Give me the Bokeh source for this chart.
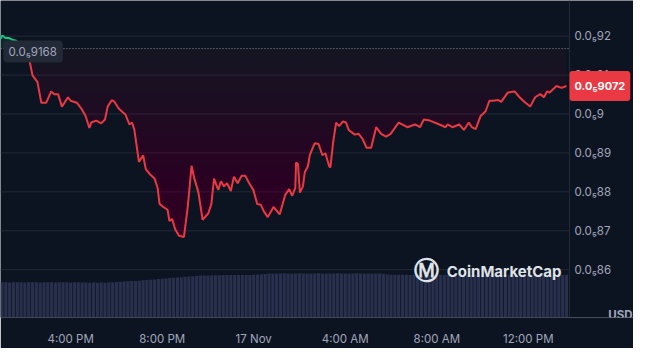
import numpy as np
import pandas as pd
from bokeh.plotting import figure
from bokeh.models import Range1d, FixedTicker, CustomJSTickFormatter, Span, Label
from bokeh.core.properties import value
from bokeh.embed import file_html
from bokeh.resources import INLINE

# Prices are the mantissa shown after "0.0₅" (i.e. 0.9168 -> 0.0₅9168 USD)
times = [
    "2024-11-16 12:56", "2024-11-16 13:01", "2024-11-16 13:09", "2024-11-16 13:19", "2024-11-16 13:29",
    "2024-11-16 13:37", "2024-11-16 13:57", "2024-11-16 14:10", "2024-11-16 14:20", "2024-11-16 14:33",
    "2024-11-16 14:43", "2024-11-16 14:56", "2024-11-16 15:09", "2024-11-16 15:17", "2024-11-16 15:27",
    "2024-11-16 15:37", "2024-11-16 15:53", "2024-11-16 16:00", "2024-11-16 16:16", "2024-11-16 16:28",
    "2024-11-16 16:39", "2024-11-16 16:49", "2024-11-16 16:54", "2024-11-16 17:07", "2024-11-16 17:20",
    "2024-11-16 17:30", "2024-11-16 17:37", "2024-11-16 17:48", "2024-11-16 17:55", "2024-11-16 18:06",
    "2024-11-16 18:16", "2024-11-16 18:24", "2024-11-16 18:34", "2024-11-16 18:41", "2024-11-16 18:47",
    "2024-11-16 18:59", "2024-11-16 19:10", "2024-11-16 19:17", "2024-11-16 19:27", "2024-11-16 19:40",
    "2024-11-16 19:48", "2024-11-16 19:53", "2024-11-16 20:03", "2024-11-16 20:14", "2024-11-16 20:19",
    "2024-11-16 20:26", "2024-11-16 20:34", "2024-11-16 20:44", "2024-11-16 20:57", "2024-11-16 21:07",
    "2024-11-16 21:17", "2024-11-16 21:23", "2024-11-16 21:35", "2024-11-16 21:46", "2024-11-16 22:01",
    "2024-11-16 22:09", "2024-11-16 22:16", "2024-11-16 22:27", "2024-11-16 22:34", "2024-11-16 22:42",
    "2024-11-16 22:50", "2024-11-16 23:00", "2024-11-16 23:08", "2024-11-16 23:18", "2024-11-16 23:28",
    "2024-11-16 23:38", "2024-11-16 23:48", "2024-11-16 23:59", "2024-11-17 00:09", "2024-11-17 00:19",
    "2024-11-17 00:27", "2024-11-17 00:37", "2024-11-17 00:52", "2024-11-17 01:08", "2024-11-17 01:23",
    "2024-11-17 01:33", "2024-11-17 01:41", "2024-11-17 01:49", "2024-11-17 01:51", "2024-11-17 01:56",
    "2024-11-17 02:01", "2024-11-17 02:09", "2024-11-17 02:14", "2024-11-17 02:22", "2024-11-17 02:27",
    "2024-11-17 02:40", "2024-11-17 02:50", "2024-11-17 03:00", "2024-11-17 03:08", "2024-11-17 03:18",
    "2024-11-17 03:21", "2024-11-17 03:28", "2024-11-17 03:36", "2024-11-17 03:44", "2024-11-17 03:54",
    "2024-11-17 04:02", "2024-11-17 04:09", "2024-11-17 04:25", "2024-11-17 04:35", "2024-11-17 04:45",
    "2024-11-17 04:56", "2024-11-17 05:08", "2024-11-17 05:21", "2024-11-17 05:34", "2024-11-17 05:47",
    "2024-11-17 05:59", "2024-11-17 06:20", "2024-11-17 06:43", "2024-11-17 07:03", "2024-11-17 07:16",
    "2024-11-17 07:26", "2024-11-17 07:42", "2024-11-17 08:07", "2024-11-17 08:23", "2024-11-17 08:28",
    "2024-11-17 08:41", "2024-11-17 08:59", "2024-11-17 09:11", "2024-11-17 09:24", "2024-11-17 09:32",
    "2024-11-17 09:42", "2024-11-17 09:55", "2024-11-17 10:08", "2024-11-17 10:18", "2024-11-17 10:28",
    "2024-11-17 10:41", "2024-11-17 10:49", "2024-11-17 11:06", "2024-11-17 11:24", "2024-11-17 11:37",
    "2024-11-17 11:50", "2024-11-17 12:05", "2024-11-17 12:18", "2024-11-17 12:31", "2024-11-17 12:41",
    "2024-11-17 12:49", "2024-11-17 12:56", "2024-11-17 13:14", "2024-11-17 13:27", "2024-11-17 13:40",
]
prices = [
    0.9193, 0.9202, 0.9195, 0.9195, 0.9190,
    0.9188, 0.9171, 0.9147, 0.9099, 0.9082,
    0.9029, 0.9029, 0.9058, 0.9051, 0.9051,
    0.9019, 0.9043, 0.9034, 0.9029, 0.9014,
    0.8995, 0.8964, 0.8978, 0.8983, 0.8976,
    0.8986, 0.9019, 0.9036, 0.9031, 0.9014,
    0.9005, 0.8998, 0.8973, 0.8978, 0.8959,
    0.8877, 0.8894, 0.8858, 0.8846, 0.8834,
    0.8810, 0.8769, 0.8761, 0.8754, 0.8725,
    0.8730, 0.8704, 0.8687, 0.8684, 0.8761,
    0.8867, 0.8839, 0.8798, 0.8728, 0.8745,
    0.8769, 0.8834, 0.8805, 0.8827, 0.8814,
    0.8822, 0.8802, 0.8839, 0.8822, 0.8841,
    0.8841, 0.8822, 0.8805, 0.8769, 0.8766,
    0.8749, 0.8735, 0.8761, 0.8742, 0.8793,
    0.8807, 0.8790, 0.8810, 0.8875, 0.8872,
    0.8798, 0.8814, 0.8851, 0.8865, 0.8894,
    0.8925, 0.8923, 0.8894, 0.8899, 0.8865,
    0.8863, 0.8925, 0.8978, 0.8969, 0.8981,
    0.8978, 0.8959, 0.8947, 0.8949, 0.8937,
    0.8913, 0.8913, 0.8966, 0.8949, 0.8942,
    0.8949, 0.8978, 0.8966, 0.8973, 0.8966,
    0.8986, 0.8983, 0.8973, 0.8966, 0.8973,
    0.8966, 0.8973, 0.8959, 0.8978, 0.8966,
    0.8961, 0.8995, 0.9007, 0.9034, 0.9034,
    0.9036, 0.9031, 0.9055, 0.9058, 0.9043,
    0.9031, 0.9019, 0.9043, 0.9051, 0.9043,
    0.9058, 0.9055, 0.9072, 0.9067, 0.9072,
]
base_price = 0.9168  # 24h open (dotted baseline)

vol_start = "2024-11-16 13:00"
volume = [  # 10-minute bars, arbitrary units (rolling volume)
    375, 376, 374, 375, 376, 375, 374, 375, 376, 375, 374, 375, 376, 375, 374, 375, 376, 375, 374, 375, 375, 374,
    372, 371, 372, 371, 372, 371, 373,
    375, 378, 381, 384, 386, 388, 390,
    392, 396, 400, 403, 406, 410, 413,
    416, 420, 423, 427, 430,
    434, 437, 440, 443, 447,
    448, 449, 450, 451, 451, 452, 452, 453, 453, 453, 453,
    453, 454, 455, 458, 462, 465, 468, 469, 470,
    470, 471, 470, 469, 470, 471, 470, 470, 469, 470, 471, 470, 470, 469, 470, 471, 470, 470, 469, 470,
    471, 470, 469, 470, 470, 469, 468, 466,
    458, 456, 455, 455, 456, 455, 454, 455, 456, 455, 455, 454, 455, 456, 455, 455, 454, 455, 456, 455,
    455, 454, 455, 456, 455, 455, 454, 455, 456, 455, 455, 454, 455, 456, 455, 455, 454, 455, 456, 455,
    455, 454, 455, 456, 455, 455, 454, 455,
]

x_ticks = ["2024-11-16 16:00", "2024-11-16 20:00", "2024-11-17 00:00",
           "2024-11-17 04:00", "2024-11-17 08:00", "2024-11-17 12:00"]
y_ticks = [0.86, 0.87, 0.88, 0.89, 0.90, 0.91, 0.92]
y_tick_labels = ["0.0\u2085" + f"{t:.2f}"[2:].rstrip("0") for t in y_ticks]

BG = "#0d1421"
GRID = "#222937"
TXT = "#a1a7bb"
RED = "#ea3943"
GREEN = "#16c784"
FONT = "Inter"

W, H = 633, 348
PLOT_W = 569          # width of the price area; the rest is the price scale


def ms(s):
    return pd.Timestamp(s).value / 1e6


t_ms = np.array([ms(t) for t in times])
pr = np.array(prices)
x0, x1 = ms("2024-11-16 12:56"), ms("2024-11-17 13:48")
x_full = x0 + (x1 - x0) * W / PLOT_W

p = figure(width=W, height=H, x_axis_type="datetime", y_axis_location=None,
           x_range=Range1d(x0, x_full), y_range=Range1d(0.84771, 0.92916),
           output_backend="svg", toolbar_location=None,
           background_fill_color=BG, border_fill_color=BG,
           min_border_left=0, min_border_top=0, min_border_right=0, min_border_bottom=25)
p.outline_line_color = None
p.extra_y_ranges = {"vol": Range1d(0, 3380)}
p.xgrid.grid_line_color = None
p.ygrid.grid_line_color = None

# horizontal grid lines, limited to the price area
p.segment(x0=[x0] * len(y_ticks), y0=y_ticks, x1=[x1] * len(y_ticks), y1=y_ticks,
          line_color=GRID, line_width=1)

# volume
vol_t = pd.date_range(vol_start, periods=len(volume), freq="10min")
p.vbar(x=vol_t, top=volume, width=10 * 60 * 1000 * 0.82, y_range_name="vol",
       fill_color="#29304d", line_color=None)

# insert baseline crossings
xs, ys = [t_ms[0]], [pr[0]]
for i in range(1, len(pr)):
    a, b = pr[i - 1], pr[i]
    if (a - base_price) * (b - base_price) < 0:
        f = (base_price - a) / (b - a)
        xs.append(t_ms[i - 1] + f * (t_ms[i] - t_ms[i - 1]))
        ys.append(base_price)
    xs.append(t_ms[i])
    ys.append(pr[i])
xs = np.array(xs)
ys = np.array(ys)

# fills (gradient built from stacked translucent layers)
p.varea(x=xs, y1=base_price, y2=np.maximum(ys, base_price), fill_color=GREEN, fill_alpha=0.12)
low = ys.min()
p.varea(x=xs, y1=np.minimum(ys, base_price), y2=base_price, fill_color=RED, fill_alpha=0.04)
N = 30
for i in range(1, N + 1):
    lvl = base_price - (base_price - low) * i / N
    p.varea(x=xs, y1=np.minimum(ys, lvl), y2=lvl, fill_color=RED, fill_alpha=0.0085)

# dotted open-price line
p.segment(x0=[x0], y0=[base_price], x1=[x1], y1=[base_price], line_color="#8c93a3",
          line_dash="1 2", line_width=1)

p.line(xs, np.where(ys >= base_price, ys, np.nan), line_color=GREEN, line_width=2)
p.line(xs, np.where(ys <= base_price, ys, np.nan), line_color=RED, line_width=2)

# price scale on the right
p.add_layout(Span(location=x1, dimension="height", line_color=GRID, line_width=1))
p.text(x=[x1] * len(y_ticks), y=y_ticks, text=y_tick_labels, x_offset=5,
       text_baseline="middle", text_align="left", text_color=TXT,
       text_font=value(FONT), text_font_size=value("11.5px"))

# time axis
p.xaxis.ticker = FixedTicker(ticks=[ms(t) for t in x_ticks])
p.xaxis.formatter = CustomJSTickFormatter(code="""
    const d = new Date(tick);
    const h = d.getUTCHours(), m = d.getUTCMinutes();
    const mons = ["Jan","Feb","Mar","Apr","May","Jun","Jul","Aug","Sep","Oct","Nov","Dec"];
    if (h === 0 && m === 0) return d.getUTCDate() + " " + mons[d.getUTCMonth()];
    const hh = (h % 12 === 0) ? 12 : h % 12;
    return hh + ":" + String(m).padStart(2, "0") + " " + (h < 12 ? "AM" : "PM");
""")
p.xaxis.axis_line_color = None
p.xaxis.major_tick_line_color = None
p.xaxis.minor_tick_line_color = None
p.xaxis.major_label_standoff = 8
p.xaxis.major_label_text_color = TXT
p.xaxis.major_label_text_font = FONT
p.xaxis.major_label_text_font_size = "11.5px"

# watermark
p.add_layout(Label(x=ms("2024-11-17 07:34"), y=0.8597, text="\u24c2", text_align="center",
                   text_baseline="middle", text_color="#dfe2e8", text_font="DejaVu Sans",
                   text_font_style="bold", text_font_size="25px"))
p.add_layout(Label(x=ms("2024-11-17 08:26"), y=0.8595, text="CoinMarketCap", text_align="left",
                   text_baseline="middle", text_color="#dfe2e8", text_font=FONT,
                   text_font_style="bold", text_font_size="15px"))

# open-price label
p.add_layout(Label(x=x0, y=base_price, x_offset=3, y_offset=-3,
                   text="0.0\u2085" + f"{base_price:.4f}"[2:],
                   text_align="left", text_baseline="middle", text_color=TXT, text_font=FONT,
                   text_font_size="11.5px", background_fill_color="#232a37",
                   padding=dict(left=5, right=6, top=4, bottom=4), border_radius=4))

# last price label
p.add_layout(Label(x=x1, y=prices[-1], x_offset=0, text="0.0\u2085" + f"{prices[-1]:.4f}"[2:],
                   text_align="left", text_baseline="middle", text_color="white", text_font=FONT,
                   text_font_style="bold", text_font_size="11px", background_fill_color=RED,
                   padding=dict(left=5, right=5, top=8, bottom=8), border_radius=3))

# currency label
p.add_layout(Label(x=x_full, y=0.8484, x_offset=-1, text="USD", text_align="right",
                   text_baseline="middle", text_color=TXT, text_font=FONT,
                   text_font_style="bold", text_font_size="11.5px"))

open("out.html", "w").write(file_html(p, INLINE))
